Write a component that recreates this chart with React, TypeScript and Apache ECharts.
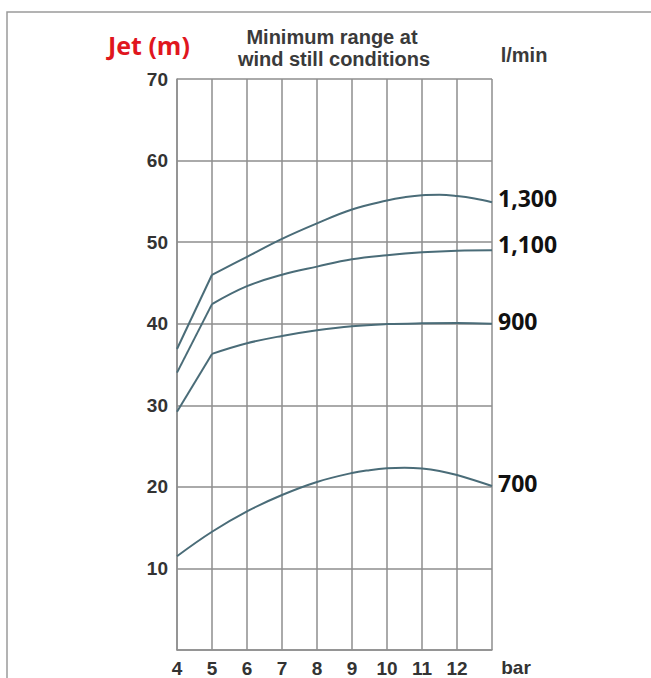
import React, { useEffect, useRef } from "react";
import * as echarts from "echarts";

// pressure (bar) positions
const pressureRise = [4, 5];
const pressure1300 = [5, 6, 7, 8, 9, 10, 10.5, 11, 11.5, 12, 12.5, 13];
const pressure1100 = [5, 6, 7, 8, 9, 10, 11, 12, 13];
const pressure900 = [5, 6, 7, 8, 9, 10, 11, 12, 13];
const pressure700 = [4, 5, 6, 7, 8, 9, 9.5, 10, 10.5, 11, 11.5, 12, 13];
const xTickLabels = ["4", "5", "6", "7", "8", "9", "10", "11", "12"];

// jet range (m)
const rise1300 = [36.9, 46.0];
const jet1300 = [46.0, 48.2, 50.4, 52.3, 54.0, 55.1, 55.5, 55.75, 55.8, 55.65, 55.35, 54.9];
const rise1100 = [34.0, 42.4];
const jet1100 = [42.4, 44.6, 46.0, 47.0, 47.9, 48.4, 48.75, 48.95, 49.0];
const rise900 = [29.2, 36.3];
const jet900 = [36.3, 37.6, 38.5, 39.2, 39.7, 39.95, 40.05, 40.08, 40.0];
const jet700 = [11.5, 14.5, 17.0, 19.0, 20.6, 21.7, 22.05, 22.28, 22.35, 22.25, 21.95, 21.45, 20.1];

const flowNames = ["1,300", "1,100", "900", "700"];

const LINE = "#4a6c78";
const GRID = "#8e8e8e";
const TXT = "#333333";

function pairs(xs: number[], ys: number[]) {
  return xs.map((x, i) => [x, ys[i]]);
}

export default function App() {
  const ref = useRef<HTMLDivElement>(null);
  useEffect(() => {
    if (!ref.current) return;
    const chart = echarts.init(ref.current, null, { renderer: "svg" });
    const endLabel = (offset: number[]) => ({
      show: true,
      formatter: "{a}",
      distance: 6,
      offset,
      color: "#111",
      fontSize: 23,
      fontWeight: "bold",
      fontFamily: "Open Sans",
    });
    const straight = (name: string, ys: number[]) => ({
      name: name + "-rise",
      type: "line",
      data: pairs(pressureRise, ys),
      showSymbol: false,
      symbol: "none",
      lineStyle: { color: LINE, width: 2 },
      silent: true,
    });
    const curve = (name: string, xs: number[], ys: number[], off: number[]) => ({
      name,
      type: "line",
      data: pairs(xs, ys),
      smooth: 0.4,
      showSymbol: false,
      symbol: "none",
      lineStyle: { color: LINE, width: 2 },
      endLabel: endLabel(off),
      silent: true,
    });
    chart.setOption({
      animation: false,
      backgroundColor: "#ffffff",
      grid: { left: 177, right: 159, top: 79, bottom: 27, containLabel: false },
      xAxis: {
        type: "value",
        min: 4,
        max: 13,
        interval: 1,
        axisLine: { show: true, lineStyle: { color: GRID, width: 1.5 } },
        axisTick: { show: false },
        splitLine: { show: true, lineStyle: { color: GRID, width: 1.5 } },
        axisLabel: {
          margin: 9,
          color: TXT,
          fontSize: 19,
          fontWeight: "bold",
          fontFamily: "Liberation Sans",
          formatter: (v: number) => {
            const i = v - 4;
            return i >= 0 && i < xTickLabels.length ? xTickLabels[i] : "";
          },
        },
      },
      yAxis: {
        type: "value",
        min: 0,
        max: 70,
        interval: 10,
        axisLine: { show: true, lineStyle: { color: GRID, width: 1.5 } },
        axisTick: { show: false },
        splitLine: { show: true, lineStyle: { color: GRID, width: 1.5 } },
        axisLabel: {
          margin: 9,
          color: TXT,
          fontSize: 19,
          fontWeight: "bold",
          fontFamily: "Liberation Sans",
          formatter: (v: number) => (v === 0 ? "" : String(v)),
        },
      },
      series: [
        straight(flowNames[0], rise1300),
        curve(flowNames[0], pressure1300, jet1300, [0, -4]),
        straight(flowNames[1], rise1100),
        curve(flowNames[1], pressure1100, jet1100, [0, -6]),
        straight(flowNames[2], rise900),
        curve(flowNames[2], pressure900, jet900, [0, -3]),
        curve(flowNames[3], pressure700, jet700, [0, -3]),
      ],
      graphic: [
        {
          type: "rect",
          shape: { x: 7, y: 12, width: 700, height: 700 },
          style: { fill: "none", stroke: "#9a9a9a", lineWidth: 1.5 },
          silent: true,
        },
        {
          type: "text",
          x: 108,
          y: 45,
          style: {
            text: "Jet (m)",
            fill: "#e0161e",
            fontSize: 25,
            fontWeight: "bold",
            fontFamily: "Open Sans",
            textAlign: "left",
            textVerticalAlign: "middle",
          },
        },
        {
          type: "text",
          x: 332,
          y: 37,
          style: {
            text: "Minimum range at",
            fill: "#3a3a3a",
            fontSize: 20,
            fontWeight: "bold",
            fontFamily: "Liberation Sans",
            textAlign: "center",
            textVerticalAlign: "middle",
          },
        },
        {
          type: "text",
          x: 334,
          y: 59,
          style: {
            text: "wind still conditions",
            fill: "#3a3a3a",
            fontSize: 20,
            fontWeight: "bold",
            fontFamily: "Liberation Sans",
            textAlign: "center",
            textVerticalAlign: "middle",
          },
        },
        {
          type: "text",
          x: 524,
          y: 55,
          style: {
            text: "l/min",
            fill: "#3a3a3a",
            fontSize: 20,
            fontWeight: "bold",
            fontFamily: "Liberation Sans",
            textAlign: "center",
            textVerticalAlign: "middle",
          },
        },
        {
          type: "text",
          x: 516,
          y: 667,
          style: {
            text: "bar",
            fill: TXT,
            fontSize: 19,
            fontWeight: "bold",
            fontFamily: "Liberation Sans",
            textAlign: "center",
            textVerticalAlign: "middle",
          },
        },
      ],
    });
    return () => chart.dispose();
  }, []);
  return (
    <div
      ref={ref}
      style={{ position: "fixed", left: 0, top: 0, width: 651, height: 678, background: "#fff" }}
    />
  );
}
